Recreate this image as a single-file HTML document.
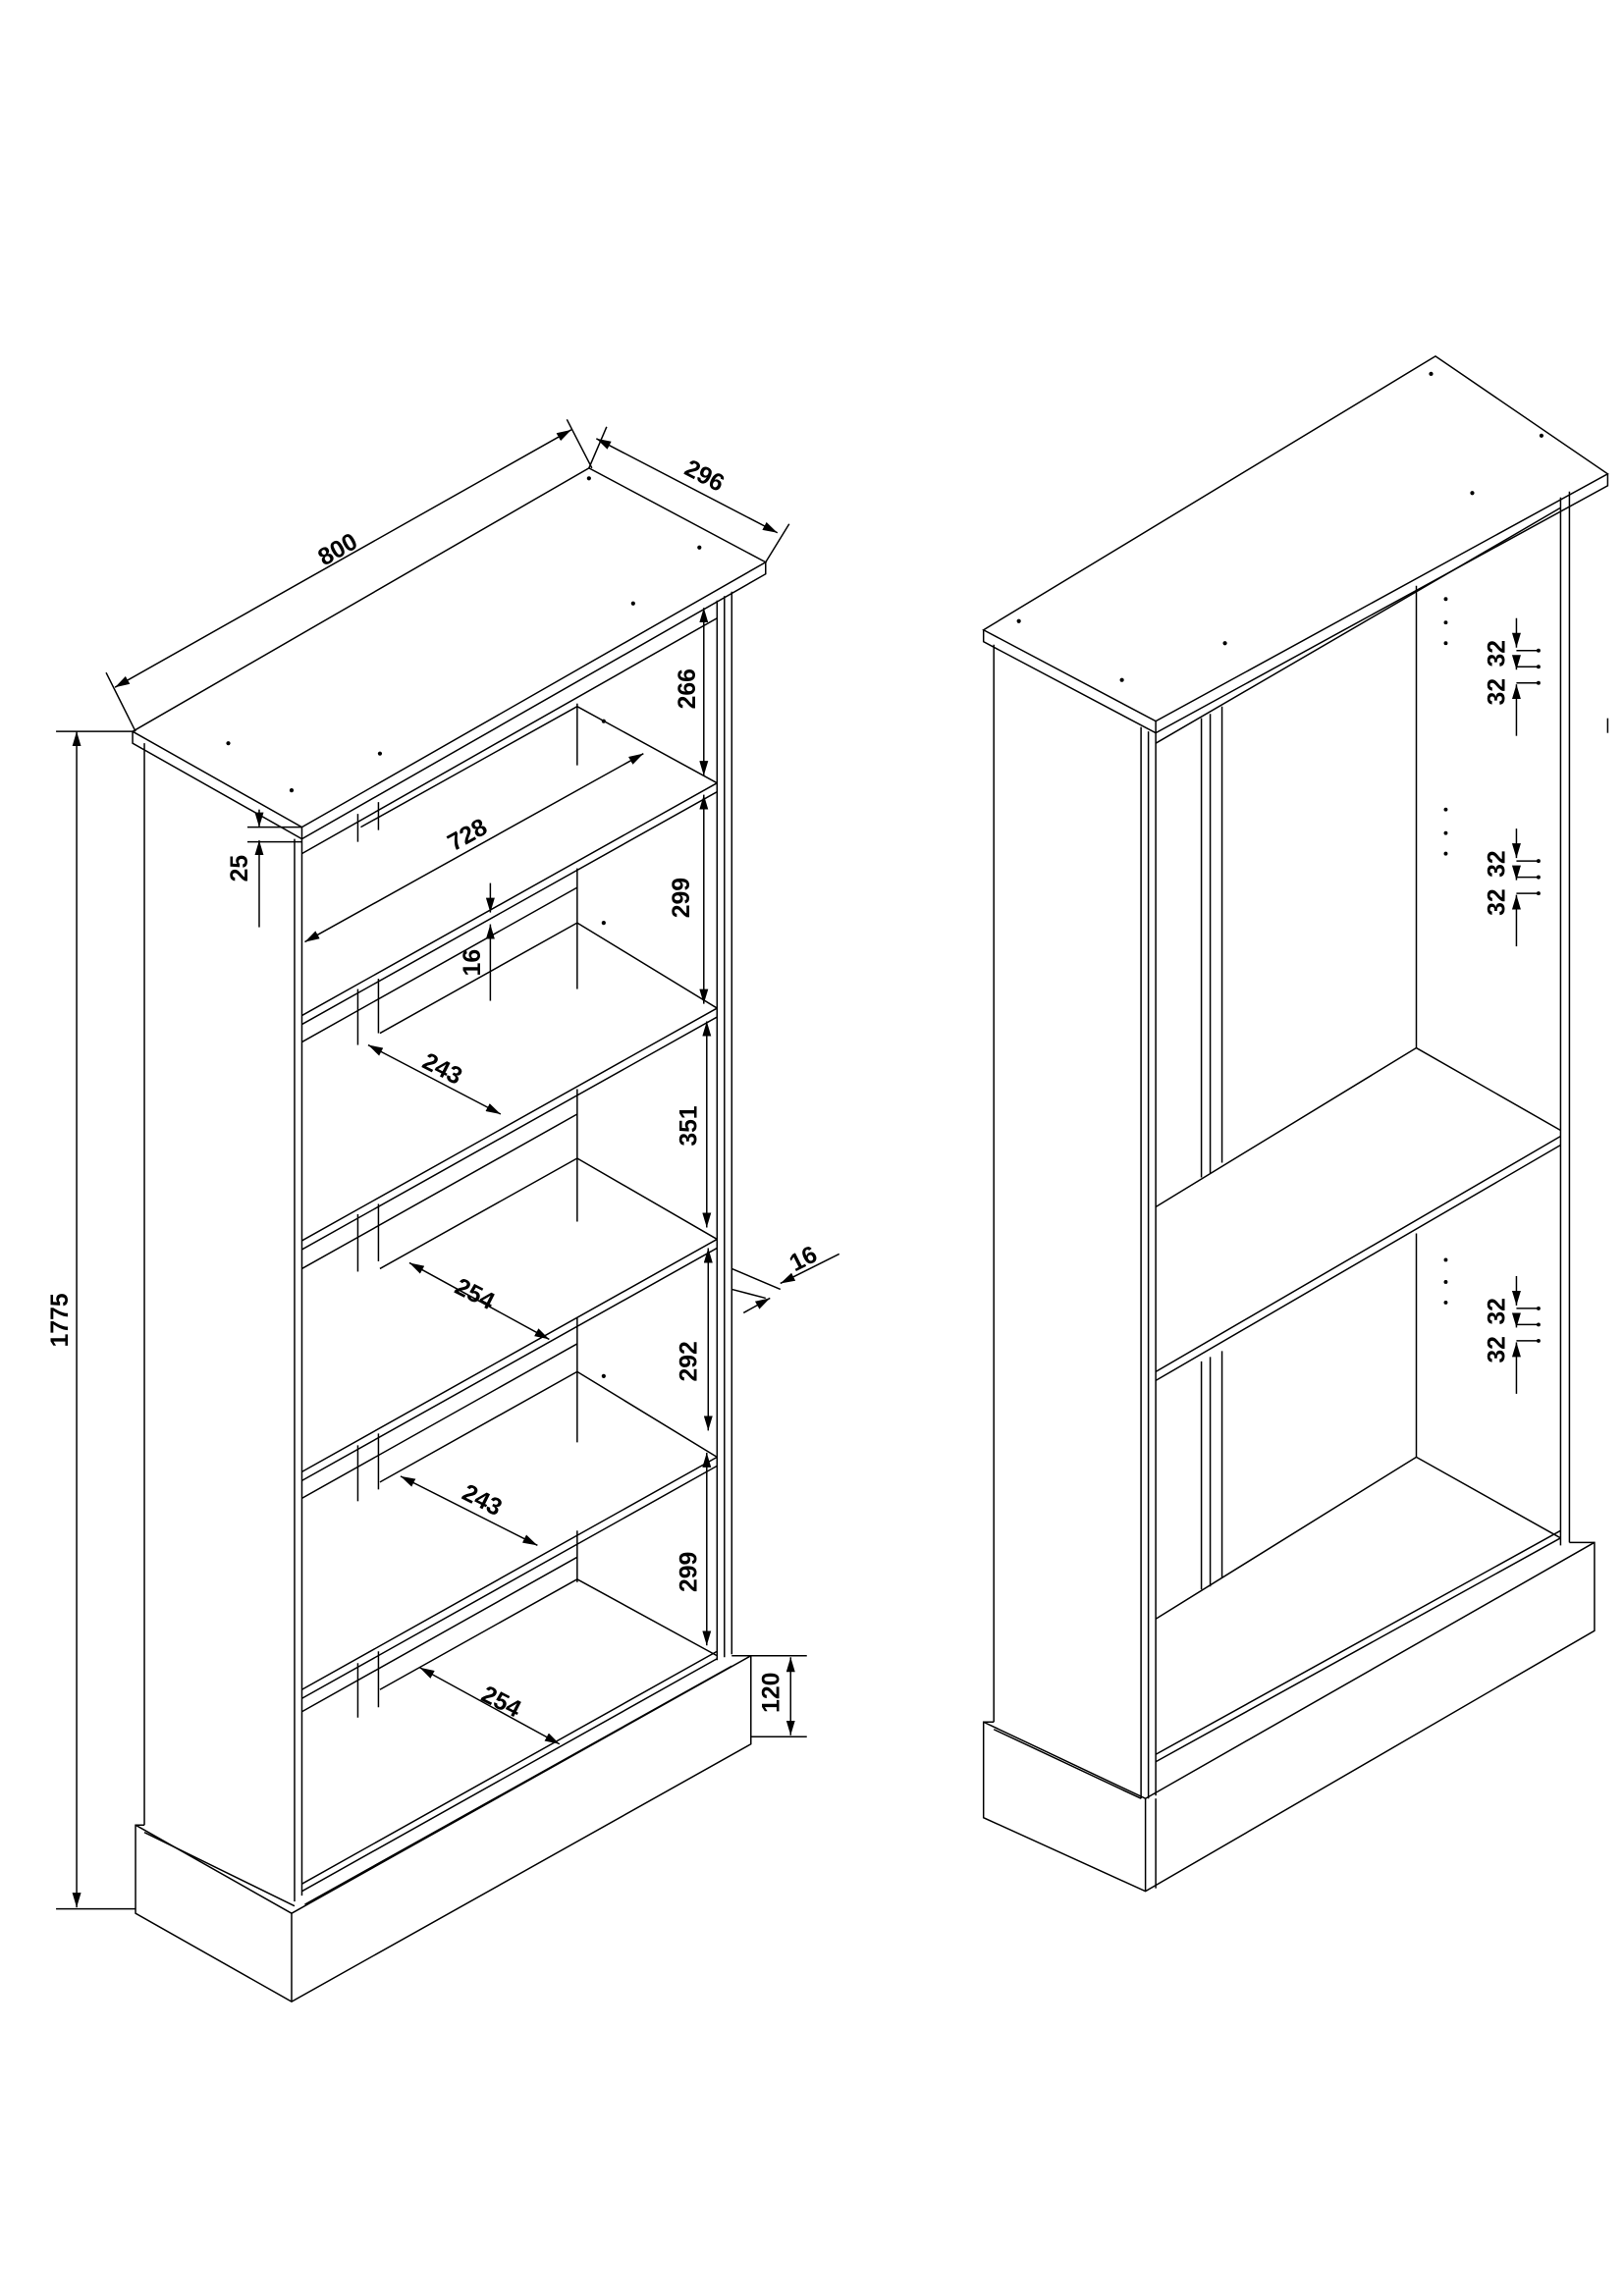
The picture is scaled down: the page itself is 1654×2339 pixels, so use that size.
<!DOCTYPE html>
<html><head><meta charset="utf-8"><style>
html,body{margin:0;padding:0;background:#fff}
svg{display:block}
text{font-family:"Liberation Sans",Arial,sans-serif;font-weight:bold;font-size:16.5px;fill:#000}
</style></head><body>
<svg width="1654" height="2339" viewBox="0 0 1103 1560" xmlns="http://www.w3.org/2000/svg">
<defs>
<marker id="a" viewBox="0 0 10 6" refX="10" refY="3" markerWidth="10" markerHeight="6" orient="auto-start-reverse" markerUnits="userSpaceOnUse"><path d="M0,0L10,3L0,6z" fill="#000"/></marker>
</defs>
<g fill="none" stroke="#000" stroke-width="1">
<polygon points="90,497 400,318 520,382 205,562" fill="#fff"/>
<polyline points="90,497 90,505 205,570 520,390 520,382"/>
<line x1="205" y1="562" x2="205" y2="570"/>
<line x1="98" y1="505" x2="98" y2="1240"/>
<line x1="200" y1="570" x2="200" y2="1292"/>
<line x1="205" y1="570" x2="205" y2="1288"/>
<line x1="487" y1="408" x2="487" y2="1128"/>
<line x1="492" y1="405" x2="492" y2="1126"/>
<line x1="497" y1="402" x2="497" y2="1124"/>
<line x1="205" y1="580" x2="487" y2="420"/>
<line x1="392" y1="478" x2="392" y2="520"/>
<line x1="392" y1="590" x2="392" y2="672"/>
<line x1="392" y1="740" x2="392" y2="830"/>
<line x1="392" y1="895" x2="392" y2="980"/>
<line x1="392" y1="1040" x2="392" y2="1075"/>
<g>
<polyline points="205,690 487,532 487,538 205,696"/>
<polyline points="392,480 487,532"/><polyline points="392,480 245,562"/><line x1="205" y1="708" x2="392" y2="603"/>
<polyline points="205,843 487,685 487,691 205,849"/>
<polyline points="392,627 487,685"/><line x1="205" y1="862" x2="392" y2="757"/><line x1="392" y1="627" x2="258" y2="702"/>
<polyline points="205,1000 487,842 487,848 205,1006"/>
<polyline points="392,787 487,842"/><line x1="205" y1="1018" x2="392" y2="913"/><line x1="392" y1="787" x2="258" y2="862"/>
<polyline points="205,1148 487,990 487,996 205,1154"/>
<polyline points="392,932 487,990"/><line x1="205" y1="1163" x2="392" y2="1058"/><line x1="392" y1="932" x2="258" y2="1007"/>
<polyline points="205,1280 487,1122"/><polyline points="205,1285 487,1127"/>
<polyline points="392,1073 487,1125"/><line x1="392" y1="1073" x2="258" y2="1148"/>
</g>
<line x1="243" y1="553" x2="243" y2="572"/><line x1="257" y1="545" x2="257" y2="564"/>
<line x1="243" y1="672" x2="243" y2="710"/><line x1="257" y1="665" x2="257" y2="702"/>
<line x1="243" y1="825" x2="243" y2="864"/><line x1="257" y1="818" x2="257" y2="857"/>
<line x1="243" y1="982" x2="243" y2="1020"/><line x1="257" y1="974" x2="257" y2="1012"/>
<line x1="243" y1="1130" x2="243" y2="1167"/><line x1="257" y1="1122" x2="257" y2="1160"/>
<polyline points="98,1240 92,1240 92,1300 198,1360 510,1185 510,1125 497,1125"/>
<line x1="92" y1="1240" x2="198" y2="1300"/>
<line x1="98" y1="1245" x2="200" y2="1295"/>
<line x1="198" y1="1300" x2="198" y2="1360"/>
<line x1="198" y1="1300" x2="510" y2="1125"/>
<line x1="207" y1="1294" x2="497" y2="1132"/>
<line x1="78" y1="467" x2="388" y2="292" marker-start="url(#a)" marker-end="url(#a)"/>
<line x1="72" y1="457" x2="92" y2="497"/><line x1="385" y1="285" x2="402" y2="318"/>
<line x1="405" y1="298" x2="528" y2="362" marker-start="url(#a)" marker-end="url(#a)"/>
<line x1="400" y1="318" x2="412" y2="290"/><line x1="520" y1="382" x2="536" y2="356"/>
<line x1="52" y1="497" x2="52" y2="1296" marker-start="url(#a)" marker-end="url(#a)"/>
<line x1="38" y1="497" x2="90" y2="497"/><line x1="38" y1="1297" x2="92" y2="1297"/>
<line x1="176" y1="550" x2="176" y2="562" marker-end="url(#a)"/><line x1="176" y1="630" x2="176" y2="571" marker-end="url(#a)"/>
<line x1="168" y1="562" x2="205" y2="562"/><line x1="168" y1="572" x2="205" y2="572"/>
<line x1="207" y1="640" x2="437" y2="512" marker-start="url(#a)" marker-end="url(#a)"/>
<line x1="333" y1="600" x2="333" y2="620" marker-end="url(#a)"/><line x1="333" y1="680" x2="333" y2="628" marker-end="url(#a)"/>
<line x1="478" y1="413" x2="478" y2="527" marker-start="url(#a)" marker-end="url(#a)"/>
<line x1="478" y1="540" x2="478" y2="682" marker-start="url(#a)" marker-end="url(#a)"/>
<line x1="480" y1="694" x2="480" y2="834" marker-start="url(#a)" marker-end="url(#a)"/>
<line x1="481" y1="848" x2="481" y2="972" marker-start="url(#a)" marker-end="url(#a)"/>
<line x1="480" y1="987" x2="480" y2="1118" marker-start="url(#a)" marker-end="url(#a)"/>
<line x1="510" y1="1125" x2="548" y2="1125"/><line x1="510" y1="1180" x2="548" y2="1180"/>
<line x1="537" y1="1126" x2="537" y2="1179" marker-start="url(#a)" marker-end="url(#a)"/>
<line x1="497" y1="862" x2="530" y2="876" /><line x1="497" y1="876" x2="520" y2="882"/>
<line x1="505" y1="892" x2="523" y2="882" marker-end="url(#a)"/><line x1="570" y1="852" x2="530" y2="872" marker-end="url(#a)"/>
<line x1="250" y1="710" x2="340" y2="757" marker-start="url(#a)" marker-end="url(#a)"/>
<line x1="278" y1="858" x2="373" y2="910" marker-start="url(#a)" marker-end="url(#a)"/>
<line x1="272" y1="1003" x2="365" y2="1050" marker-start="url(#a)" marker-end="url(#a)"/>
<line x1="285" y1="1133" x2="380" y2="1185" marker-start="url(#a)" marker-end="url(#a)"/>

<polygon points="668,428 975,242 1092,322 785,490" fill="#fff"/>
<polyline points="668,428 668,436 785,498 1092,330 1092,322"/>
<line x1="785" y1="490" x2="785" y2="498"/>
<line x1="675" y1="438" x2="675" y2="1170"/>
<line x1="775" y1="494" x2="775" y2="1222"/>
<line x1="780" y1="497" x2="780" y2="1222"/>
<line x1="785" y1="498" x2="785" y2="1220"/>
<line x1="1060" y1="338" x2="1060" y2="1050"/>
<line x1="1066" y1="334" x2="1066" y2="1048"/>
<line x1="785" y1="505" x2="1060" y2="345"/>
<line x1="816" y1="488" x2="816" y2="800"/><line x1="822" y1="485" x2="822" y2="797"/><line x1="830" y1="480" x2="830" y2="790"/>
<line x1="816" y1="925" x2="816" y2="1080"/><line x1="822" y1="922" x2="822" y2="1078"/><line x1="830" y1="918" x2="830" y2="1072"/>
<line x1="962" y1="398" x2="962" y2="712"/>
<line x1="962" y1="838" x2="962" y2="990"/>
<line x1="785" y1="820" x2="962" y2="712"/><line x1="962" y1="712" x2="1060" y2="768"/>
<line x1="785" y1="932" x2="1060" y2="772"/><line x1="785" y1="938" x2="1060" y2="778"/>
<line x1="785" y1="1100" x2="962" y2="990"/><line x1="962" y1="990" x2="1060" y2="1045"/>
<line x1="785" y1="1192" x2="1060" y2="1040"/><line x1="785" y1="1197" x2="1060" y2="1045"/>
<polyline points="675,1170 668,1170 668,1235 778,1285 1083,1108 1083,1048 1066,1048"/>
<line x1="668" y1="1170" x2="778" y2="1222"/><line x1="675" y1="1175" x2="775" y2="1222"/>
<line x1="778" y1="1222" x2="778" y2="1285"/><line x1="785" y1="1222" x2="785" y2="1283"/>
<line x1="778" y1="1222" x2="1083" y2="1048"/>
<line x1="1092" y1="488" x2="1092" y2="498"/>
<g id="d32">
<line x1="1030" y1="420" x2="1030" y2="440" marker-end="url(#a)"/>
<line x1="1030" y1="448" x2="1030" y2="455" marker-end="url(#a)"/>
<line x1="1030" y1="500" x2="1030" y2="465" marker-end="url(#a)"/>
<line x1="1030" y1="442" x2="1045" y2="442"/><line x1="1030" y1="453" x2="1045" y2="453"/><line x1="1030" y1="464" x2="1045" y2="464"/>
</g>
<use href="#d32" y="143"/>
<use href="#d32" y="447"/>
</g>
<g fill="#000">
<circle cx="400" cy="325" r="1.4"/><circle cx="475" cy="372" r="1.4"/><circle cx="430" cy="410" r="1.4"/>
<circle cx="198" cy="537" r="1.4"/><circle cx="155" cy="505" r="1.4"/><circle cx="258" cy="512" r="1.4"/>
<circle cx="410" cy="490" r="1.4"/><circle cx="410" cy="627" r="1.4"/><circle cx="410" cy="935" r="1.4"/>
<circle cx="972" cy="254" r="1.4"/><circle cx="1047" cy="296" r="1.4"/><circle cx="1000" cy="335" r="1.4"/>
<circle cx="762" cy="462" r="1.4"/><circle cx="832" cy="437" r="1.4"/><circle cx="692" cy="422" r="1.4"/>
<circle cx="982" cy="407" r="1.3"/><circle cx="982" cy="423" r="1.3"/><circle cx="982" cy="437" r="1.3"/>
<circle cx="982" cy="550" r="1.3"/><circle cx="982" cy="566" r="1.3"/><circle cx="982" cy="580" r="1.3"/>
<circle cx="982" cy="856" r="1.3"/><circle cx="982" cy="871" r="1.3"/><circle cx="982" cy="885" r="1.3"/>
<circle cx="1045" cy="442" r="1.3"/><circle cx="1045" cy="453" r="1.3"/><circle cx="1045" cy="464" r="1.3"/>
<circle cx="1045" cy="585" r="1.3"/><circle cx="1045" cy="596" r="1.3"/><circle cx="1045" cy="607" r="1.3"/>
<circle cx="1045" cy="889" r="1.3"/><circle cx="1045" cy="900" r="1.3"/><circle cx="1045" cy="911" r="1.3"/>
</g>
<text transform="translate(232,378) rotate(-29.5)" text-anchor="middle">800</text>
<text transform="translate(476,328) rotate(27.5)" text-anchor="middle">296</text>
<text transform="translate(46,897) rotate(-90)" text-anchor="middle">1775</text>
<text transform="translate(168,590) rotate(-90)" text-anchor="middle">25</text>
<text transform="translate(320,572) rotate(-29)" text-anchor="middle">728</text>
<text transform="translate(326,654) rotate(-90)" text-anchor="middle">16</text>
<text transform="translate(472,468) rotate(-90)" text-anchor="middle">266</text>
<text transform="translate(468,610) rotate(-90)" text-anchor="middle">299</text>
<text transform="translate(473,765) rotate(-90)" text-anchor="middle">351</text>
<text transform="translate(473,925) rotate(-90)" text-anchor="middle">292</text>
<text transform="translate(473,1068) rotate(-90)" text-anchor="middle">299</text>
<text transform="translate(529,1150) rotate(-90)" text-anchor="middle">120</text>
<text transform="translate(548,860) rotate(-27)" text-anchor="middle">16</text>
<text transform="translate(298,731) rotate(27)" text-anchor="middle">243</text>
<text transform="translate(320,884) rotate(27)" text-anchor="middle">254</text>
<text transform="translate(325,1024) rotate(27)" text-anchor="middle">243</text>
<text transform="translate(338,1161) rotate(27)" text-anchor="middle">254</text>
<g>
<text transform="translate(1022,444) rotate(-90)" text-anchor="middle">32</text>
<text transform="translate(1022,470) rotate(-90)" text-anchor="middle">32</text>
<text transform="translate(1022,587) rotate(-90)" text-anchor="middle">32</text>
<text transform="translate(1022,613) rotate(-90)" text-anchor="middle">32</text>
<text transform="translate(1022,891) rotate(-90)" text-anchor="middle">32</text>
<text transform="translate(1022,917) rotate(-90)" text-anchor="middle">32</text>
</g>
</svg>
</body></html>
